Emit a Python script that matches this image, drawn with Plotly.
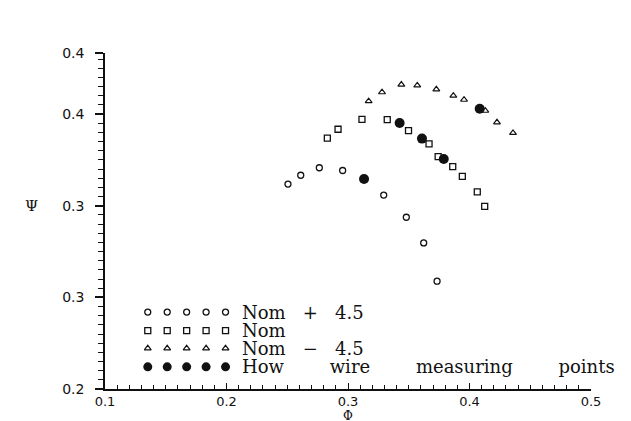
import plotly.graph_objects as go

# ---- data ----
phi_plus = [0.2506, 0.2611, 0.2764, 0.2956, 0.3294, 0.3480, 0.3623, 0.3733]
psi_plus = [0.3118, 0.3166, 0.3207, 0.3192, 0.3058, 0.2937, 0.2797, 0.2588]

phi_nom = [0.2830, 0.2918, 0.3115, 0.3323, 0.3498, 0.3667, 0.3742, 0.3862, 0.3941, 0.4064, 0.4125]
psi_nom = [0.3369, 0.3417, 0.3471, 0.3469, 0.3410, 0.3337, 0.3268, 0.3213, 0.3160, 0.3075, 0.2996]

phi_minus = [0.3170, 0.3280, 0.3439, 0.3570, 0.3727, 0.3867, 0.3955, 0.4130, 0.4226, 0.4358]
psi_minus = [0.3570, 0.3619, 0.3661, 0.3656, 0.3635, 0.3600, 0.3578, 0.3518, 0.3455, 0.3397]

phi_wire = [0.3132, 0.3425, 0.3609, 0.3788, 0.4084]
psi_wire = [0.3146, 0.3451, 0.3366, 0.3255, 0.3529]

x_tickvals = [0.1, 0.2, 0.3, 0.4, 0.5]
x_ticktext = ["0.1", "0.2", "0.3", "0.4", "0.5"]
y_tickvals = [0.2, 0.25, 0.3, 0.35, 0.3833]
y_ticktext = ["0.2", "0.3", "0.3", "0.4", "0.4"]

legend_labels = ["Nom   +   4.5", "Nom", "Nom   \u2212   4.5",
                 "How        wire        measuring        points"]

# ---- styles ----
INK = "#111111"
styles = [
    dict(symbol="circle-open", size=6, line=dict(width=1.3, color=INK), color=INK),
    dict(symbol="square-open", size=6, line=dict(width=1.3, color=INK), color=INK),
    dict(symbol="triangle-up-open", size=6, line=dict(width=1.2, color=INK), color=INK),
    dict(symbol="circle", size=10, line=dict(width=0, color=INK), color=INK),
]

fig = go.Figure()
series = [(phi_plus, psi_plus), (phi_nom, psi_nom), (phi_minus, psi_minus), (phi_wire, psi_wire)]
for (xs, ys), st in zip(series, styles):
    fig.add_trace(go.Scatter(x=xs, y=ys, mode="markers", marker=st, showlegend=False,
                             hoverinfo="skip"))

# ---- custom legend on a hidden overlay axis (fractions of plot area) ----
leg_x = [0.088, 0.128, 0.168, 0.208, 0.248]
leg_rows = [0.229, 0.174, 0.121, 0.066]
leg_text_x = 0.280
for st, yrow, lab in zip(styles, leg_rows, legend_labels):
    st2 = dict(st)
    if st2["symbol"] == "circle":
        st2["size"] = 9
    fig.add_trace(go.Scatter(x=leg_x, y=[yrow] * len(leg_x), mode="markers", marker=st2,
                             xaxis="x2", yaxis="y2", showlegend=False, hoverinfo="skip"))
    fig.add_annotation(x=leg_text_x, y=yrow, xref="x2", yref="y2", text=lab,
                       showarrow=False, xanchor="left", yanchor="middle", borderpad=0,
                       font=dict(family="DejaVu Serif", size=18, color=INK))

fig.add_annotation(x=-0.169, y=0.545, xref="paper", yref="paper", text="\u03a8",
                   showarrow=False, font=dict(family="DejaVu Serif", size=15, color=INK))
fig.add_annotation(x=0.5, y=-0.104, xref="paper", yref="paper", text="\u03a6",
                   showarrow=False, yanchor="bottom", borderpad=0,
                   font=dict(family="DejaVu Serif", size=12, color=INK))

tickfont = dict(family="DejaVu Sans", size=13, color=INK)
fig.update_layout(
    width=631, height=421,
    margin=dict(l=97, r=48, t=45, b=40),
    paper_bgcolor="white", plot_bgcolor="white",
    xaxis=dict(range=[0.1, 0.5], tickvals=x_tickvals, ticktext=x_ticktext,
               showgrid=False, zeroline=False, showline=True, linecolor=INK, linewidth=1.5,
               ticks="inside", ticklen=6, tickwidth=1.3, tickcolor=INK, tickfont=tickfont,
               minor=dict(dtick=0.01, ticks="inside", ticklen=4, tickwidth=1, tickcolor=INK),
               ticklabelstandoff=0),
    yaxis=dict(range=[0.2, 0.3833], tickvals=y_tickvals, ticktext=y_ticktext,
               showgrid=False, zeroline=False, showline=True, linecolor=INK, linewidth=1.5,
               ticks="outside", ticklen=8, tickwidth=1.5, tickcolor=INK,
               tickfont=dict(family="DejaVu Sans", size=14, color=INK),
               minor=dict(tick0=0.2, dtick=0.005, ticks="outside", ticklen=5, tickwidth=1,
                          tickcolor=INK),
               ticklabelstandoff=8),
    xaxis2=dict(range=[0, 1], overlaying="x", visible=False, fixedrange=True),
    yaxis2=dict(range=[0, 1], overlaying="y", visible=False, fixedrange=True),
)

fig.write_html("out.html")
